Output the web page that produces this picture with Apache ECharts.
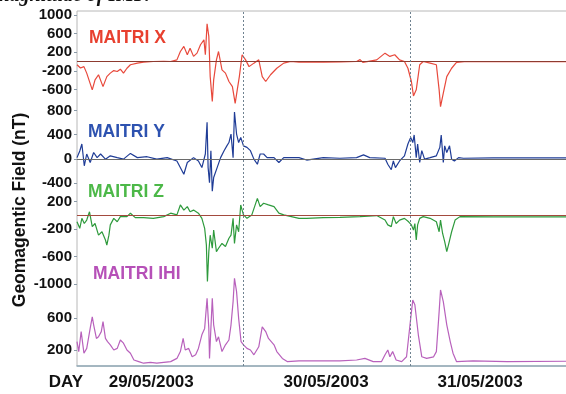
<!DOCTYPE html>
<html>
<head>
<meta charset="utf-8">
<script src="https://cdn.jsdelivr.net/npm/echarts@6/dist/echarts.min.js"></script>
<style>
  html, body { margin: 0; padding: 0; background: #fff; }
  #chart { width: 566px; height: 394px; }
</style>
</head>
<body>
<div id="chart"></div>
<script>
// [hour since 29/05/2003 00:00, nT]
const maitriX = [[0,-70],[0.5,-140],[1,-110],[1.4,-250],[2.2,-610],[2.6,-395],[3.1,-285],[3.75,-540],[4.3,-325],[4.8,-250],[5.3,-195],[5.8,-215],[6.25,-165],[6.7,-250],[7.2,-145],[7.7,-70],[8.7,-35],[9.6,-15],[11,0],[12.5,5],[13.5,0],[14.4,35],[14.9,215],[15.4,325],[15.9,145],[16.3,285],[16.8,110],[17.3,180],[17.8,360],[18.3,465],[18.5,145],[18.75,810],[19,540],[19.2,-325],[19.5,-860],[19.7,-395],[20.1,35],[20.4,215],[20.9,-180],[21.4,-250],[21.9,-430],[22.4,-540],[22.8,-900],[23.1,-610],[23.4,-325],[23.8,145],[24.3,35],[24.8,-110],[25.5,-35],[26.2,35],[26.7,-325],[27.2,-430],[27.9,-285],[28.8,-145],[29.8,-35],[30.8,0],[32,-15],[35.5,-15],[38,-10],[40.3,0],[40.8,40],[41.2,-20],[43.2,35],[44.4,180],[45.1,110],[45.8,145],[46.5,35],[47.2,0],[47.7,-145],[48.2,-430],[48.5,-740],[48.9,-610],[49.4,-70],[49.9,0],[50.9,-35],[51.8,-70],[52.2,-610],[52.4,-970],[52.8,-680],[53.3,-325],[54,-145],[54.7,-20],[56.2,0],[60,-5],[65,-5],[72,-5]]
const maitriY = [[0,20],[0.4,130],[0.7,245],[1.05,-115],[1.4,80],[1.9,-60],[2.4,105],[2.9,20],[3.4,80],[4.1,-5],[4.8,50],[5.8,20],[6.7,-5],[7.7,90],[8.7,20],[10.1,35],[11.5,-5],[13,20],[14.4,-35],[15.4,-255],[15.9,-60],[16.8,20],[17.5,-35],[18,-145],[18.5,80],[18.75,605],[18.9,-145],[19.1,-395],[19.3,135],[19.5,-535],[19.7,-310],[20.2,-145],[20.7,20],[21.2,135],[21.6,215],[21.9,270],[22.2,410],[22.5,20],[22.7,775],[23,410],[23.3,270],[23.6,355],[24,215],[24.5,190],[25,135],[25.5,-5],[26,-90],[26.4,80],[26.9,80],[27.4,20],[28.4,20],[29.1,-60],[29.8,20],[32,20],[33.1,-20],[35.5,20],[37.9,10],[40.3,20],[41.3,65],[42.2,20],[44.4,10],[44.8,-90],[45.3,-180],[45.6,-35],[45.9,-145],[46.5,-35],[47.2,50],[47.7,245],[48.1,355],[48.4,270],[48.6,395],[48.9,20],[49.1,245],[49.4,-60],[49.7,135],[50.1,-5],[50.9,20],[51.8,50],[52.3,190],[52.5,395],[52.8,-60],[53,215],[53.3,105],[53.7,215],[54,-5],[54.4,-35],[55,20],[55.7,10],[60,15],[65,15],[72,15]]
const maitriZ = [[0,-95],[0.4,-190],[0.7,-45],[1.05,-120],[1.4,-70],[1.8,50],[2.2,-165],[2.6,-120],[3.1,-290],[3.6,-240],[4.1,-360],[4.3,-435],[4.6,-290],[4.8,-140],[5.3,-45],[5.8,-95],[6.25,-20],[7.2,-20],[7.7,30],[8.4,-35],[9.6,-35],[11,-45],[12.5,-20],[13.5,30],[14.4,5],[14.9,150],[15.4,75],[15.9,125],[16.3,50],[16.8,75],[17.5,30],[18,-45],[18.4,-190],[18.65,-435],[18.8,-965],[19,-530],[19.2,-290],[19.5,-480],[19.7,-215],[20.1,-530],[20.4,-480],[20.9,-410],[21.4,-455],[21.9,-335],[22.2,-290],[22.5,-45],[22.7,-410],[23,-140],[23.3,-240],[23.6,150],[23.8,75],[24,5],[24.5,-45],[25.2,5],[26,245],[26.4,125],[26.9,175],[27.6,150],[28.4,125],[29.1,30],[29.8,5],[32,-45],[33.1,-45],[35.5,-35],[37.9,-30],[40.8,-20],[43.2,-5],[44.4,-70],[44.8,-140],[45.3,-165],[45.6,-20],[46,-120],[46.5,-70],[47.2,-45],[47.8,-95],[48.2,-140],[48.5,-215],[48.7,-120],[48.9,-360],[49.1,-140],[49.4,-45],[49.9,-20],[50.9,-45],[51.8,-95],[52.2,-240],[52.4,-70],[52.7,-265],[53,-385],[53.3,-530],[53.6,-410],[54,-240],[54.5,-70],[55.2,-20],[60,-25],[65,-25],[72,-25]]
const maitriIHI = [[0,305],[0.25,180],[0.6,430],[1,160],[1.4,220],[1.9,470],[2.2,615],[2.4,515],[2.8,345],[3.1,365],[3.5,430],[3.75,555],[4.1,345],[4.4,305],[4.8,265],[5.3,200],[5.8,220],[6.25,325],[6.7,285],[7.2,200],[7.7,160],[8.2,75],[8.9,55],[9.6,35],[10.6,45],[11.5,35],[12.5,45],[13.5,55],[14.4,95],[14.9,180],[15.3,345],[15.6,200],[16.1,220],[16.6,115],[17.1,140],[17.5,220],[18,390],[18.4,470],[18.75,845],[19,470],[19.1,95],[19.5,845],[19.7,515],[20.1,305],[20.4,365],[20.9,180],[21.4,265],[21.9,325],[22.2,515],[22.5,805],[22.7,1095],[23,930],[23.3,595],[23.65,305],[24,265],[24.5,220],[25,200],[25.5,140],[26.2,240],[26.7,490],[27.2,430],[27.6,345],[28.4,265],[28.8,180],[29.6,95],[30.3,55],[32,65],[33.1,65],[35.5,65],[37.9,65],[40.3,75],[41.5,95],[42.7,55],[43.9,55],[44.4,140],[44.8,200],[45.1,115],[45.5,180],[46,75],[46.8,55],[47.5,115],[48,515],[48.4,825],[48.7,765],[49.2,390],[49.7,115],[50.4,95],[51.4,115],[51.8,180],[52.2,680],[52.4,950],[52.8,805],[53.3,515],[53.8,305],[54.2,160],[54.7,55],[57.1,65],[62,55],[72,60]]

const dayLabels = ['29/05/2003', '30/05/2003', '31/05/2003']
const dayLabelAt = [10.7, 35.9, 58.1]
const dayBreaks = [24, 48]
const ihiTicks = [200, 600]

const FONT = '"Liberation Sans", Arial, sans-serif'
const L = 77, W = 499.5

let chart = echarts.init(document.getElementById('chart'), null, { renderer: 'canvas' })

// one band per component, sharing the same left edge and time axis
function band(top, height) {
  return { left: L, width: W, top: top, height: height, outerBoundsMode: 'none', containLabel: false }
}
function timeAxis(gridIndex, show) {
  return {
    type: 'value', gridIndex: gridIndex, min: 0, max: 72, show: show,
    splitLine: { show: false }, axisTick: { show: false },
    axisLine: { show: show, lineStyle: { color: '#92aab8', width: 1.5 } },
    axisLabel: {
      show: show, customValues: dayLabelAt, margin: 8,
      formatter: (v) => dayLabels[dayLabelAt.indexOf(v)] || '',
      color: '#111', fontFamily: FONT, fontWeight: 'bold', fontSize: 17,
    },
  }
}
const yLabel = { margin: 5, color: '#111', fontFamily: FONT, fontWeight: 'bold', fontSize: 15, formatter: (v) => String(v) }
function fieldAxis(gridIndex, min, max, extra) {
  return Object.assign({
    type: 'value', gridIndex: gridIndex, min: min, max: max, interval: 400,
    splitLine: { show: false },
    axisLine: { show: false },
    axisTick: { show: true, length: 3, lineStyle: { color: '#8a9aa8' } },
    axisLabel: yLabel,
  }, extra || {})
}
function trace(name, idx, data, color, zeroColor) {
  let s = {
    name: name, type: 'line', xAxisIndex: idx, yAxisIndex: idx,
    data: data, showSymbol: false, clip: false, silent: true,
    lineStyle: { color: color, width: 1.2 },
  }
  if (zeroColor) {
    s.markLine = {
      silent: true, symbol: 'none', label: { show: false },
      lineStyle: { color: zeroColor, width: 1.2, type: 'solid' },
      data: [{ yAxis: 0 }],
    }
  }
  return s
}
function panelTitle(text, left, top, color) {
  return { text: text, left: left, top: top, padding: 0, textStyle: { color: color, fontFamily: FONT, fontWeight: 'bold', fontSize: 17.5 } }
}

let option = {
  animation: false,
  backgroundColor: '#fff',
  title: [
    panelTitle('MAITRI X', 89, 29, '#e8402f'),
    panelTitle('MAITRI Y', 88, 123, '#2d52b0'),
    panelTitle('MAITRI Z', 88, 183, '#4cb848'),
    panelTitle('MAITRI IHI', 93, 265, '#b650b8'),
  ],
  grid: [
    band(15, 74.4),      // X  : 1000 .. -600
    band(110.5, 72.5),   // Y  : 800 .. -400
    band(201.5, 82.5),   // Z  : 200 .. -1000
    band(318, 48),       // IHI: 600 .. 0
    Object.assign(band(11, 355), { show: true, borderColor: '#b8b8b8', borderWidth: 1 }),
  ],
  xAxis: [timeAxis(0, false), timeAxis(1, false), timeAxis(2, false), timeAxis(3, true), timeAxis(4, false)],
  yAxis: [
    fieldAxis(0, -600, 1000),
    fieldAxis(1, -400, 800),
    fieldAxis(2, -1000, 200),
    fieldAxis(3, 0, 600, {
      interval: null,
      axisLabel: Object.assign({ customValues: ihiTicks }, yLabel),
      axisTick: { show: true, length: 3, customValues: ihiTicks, lineStyle: { color: '#8a9aa8' } },
    }),
    { type: 'value', gridIndex: 4, min: 0, max: 1, show: false },
  ],
  series: [
    trace('MAITRI X', 0, maitriX, '#e8493c', '#8e3b30'),
    trace('MAITRI Y', 1, maitriY, '#1f3c96', '#6a6a6a'),
    trace('MAITRI Z', 2, maitriZ, '#2e9a3c', '#a34a3e'),
    trace('MAITRI IHI', 3, maitriIHI, '#b861bc', null),
    {
      type: 'line', xAxisIndex: 4, yAxisIndex: 4, data: [], silent: true,
      markLine: {
        silent: true, symbol: 'none', label: { show: false },
        lineStyle: { color: '#6f8290', width: 1, type: [2, 2] },
        data: dayBreaks.map((d) => ({ xAxis: d })),
      },
    },
  ],
  graphic: [
    {
      type: 'text', left: -6, top: -14,
      style: { text: 'magnitude of IMF.', font: 'italic bold 20px "Liberation Serif", serif', fill: '#111' },
    },
    {
      type: 'text', x: 66, y: 382,
      style: { text: 'DAY', align: 'center', verticalAlign: 'middle', font: 'bold 17px ' + FONT, fill: '#111' },
    },
    {
      type: 'text', x: 20, y: 210, rotation: Math.PI / 2,
      style: { text: 'Geomagentic Field (nT)', align: 'center', verticalAlign: 'middle', font: 'bold 17.5px ' + FONT, fill: '#111' },
    },
  ],
}

chart.setOption(option)
</script>
</body>
</html>
